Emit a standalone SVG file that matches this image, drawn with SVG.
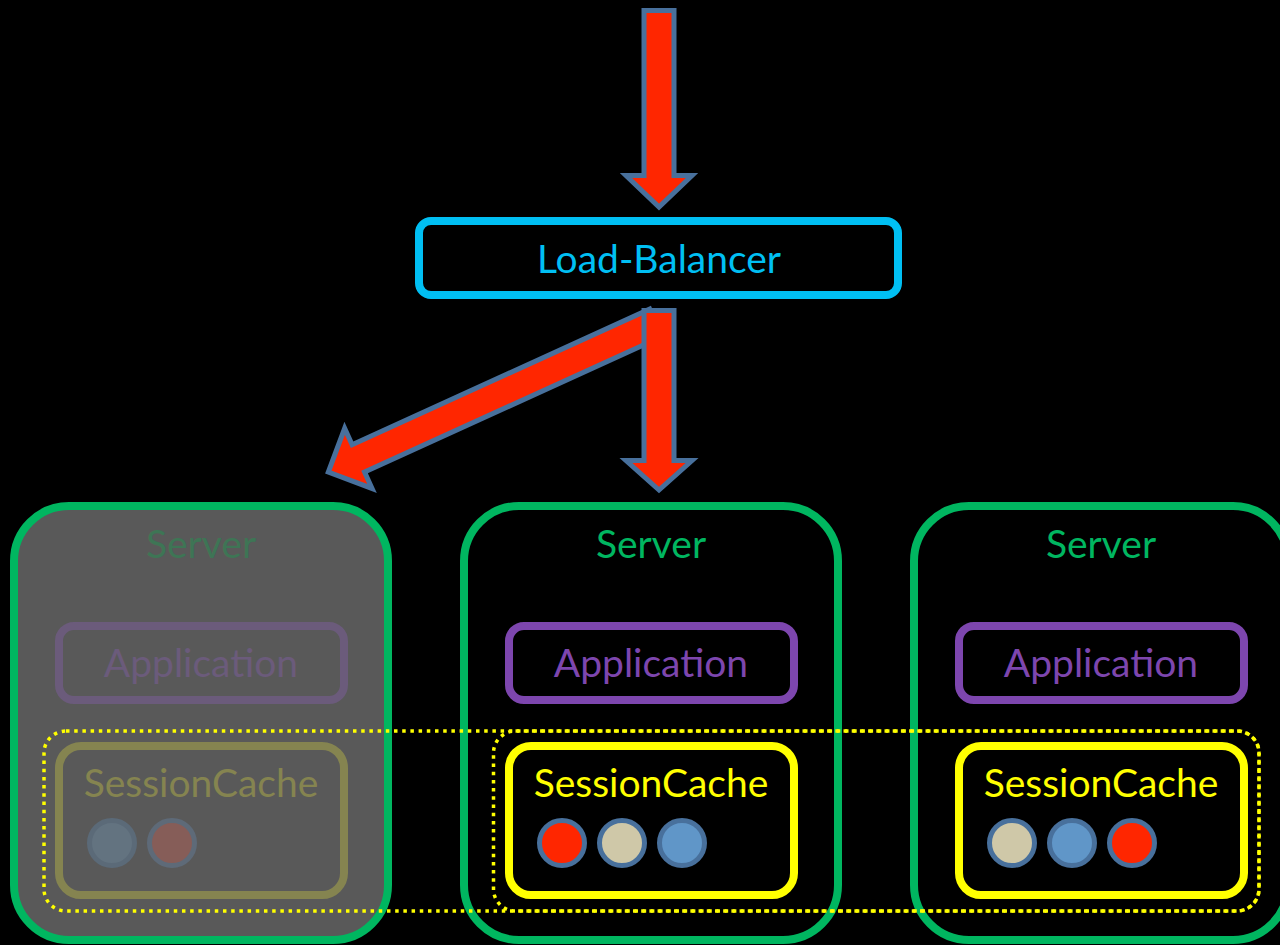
<svg xmlns="http://www.w3.org/2000/svg" width="1280" height="945" viewBox="0 0 1280 945">
  <style>
    .lbl { font-family: Lato, "Open Sans", "Liberation Sans", sans-serif; font-size: 39px; text-anchor: middle; }
    .srv { fill: none; stroke: #00B660; stroke-width: 8; }
    .app { fill: none; stroke: #7D46AE; stroke-width: 8; }
    .cache { fill: none; stroke: #FFFF00; stroke-width: 8; }
    .arrow { fill: #FF2600; stroke: #48709C; stroke-width: 5; stroke-linejoin: miter; }
    .dot { stroke: #48709C; stroke-width: 5; }
    .cluster { fill: none; stroke: #FFFF00; stroke-width: 3.5; stroke-dasharray: 3.5 4.7; }
  </style>
  <rect width="1280" height="945" fill="#000000"/>

  <!-- load balancer -->
  <g id="load-balancer">
    <rect x="419" y="221" width="479" height="74" rx="12" fill="none" stroke="#00BFF3" stroke-width="8"/>
    <text class="lbl" x="659" y="273" fill="#00BFF3">Load-Balancer</text>
  </g>

  <!-- server taken out of rotation (greyed) -->
  <g id="server-1">
    <rect x="14" y="506" width="374" height="434" rx="55" fill="#595959" stroke="#00B660" stroke-width="8"/>
    <text class="lbl" x="201" y="558" fill="#3E7555">Server</text>
    <g id="application-1">
      <rect x="59" y="626" width="285" height="74" rx="15" fill="none" stroke="#6B5B7B" stroke-width="8"/>
      <text class="lbl" x="201" y="677" fill="#6B5B7B">Application</text>
    </g>
    <g id="session-cache-1">
      <rect x="59" y="746" width="285" height="149" rx="22" fill="none" stroke="#858450" stroke-width="8"/>
      <text class="lbl" x="201" y="797" fill="#858450">SessionCache</text>
      <circle cx="112" cy="843" r="22.5" fill="#637380" stroke="#5B6A78" stroke-width="5"/>
      <circle cx="172" cy="843" r="22.5" fill="#865D58" stroke="#5E6A78" stroke-width="5"/>
    </g>
  </g>

  <g id="server-2">
    <rect class="srv" x="464" y="506" width="374" height="434" rx="55"/>
    <text class="lbl" x="651" y="558" fill="#00B660">Server</text>
    <g id="application-2">
      <rect class="app" x="509" y="626" width="285" height="74" rx="15"/>
      <text class="lbl" x="651" y="677" fill="#7D46AE">Application</text>
    </g>
    <g id="session-cache-2">
      <rect class="cache" x="509" y="746" width="285" height="149" rx="22"/>
      <text class="lbl" x="651" y="797" fill="#FFFF00">SessionCache</text>
      <circle class="dot" cx="562" cy="843" r="22.5" fill="#FF2600"/>
      <circle class="dot" cx="622" cy="843" r="22.5" fill="#CFC8A8"/>
      <circle class="dot" cx="682" cy="843" r="22.5" fill="#6096C8"/>
    </g>
  </g>

  <g id="server-3">
    <rect class="srv" x="914" y="506" width="374" height="434" rx="55"/>
    <text class="lbl" x="1101" y="558" fill="#00B660">Server</text>
    <g id="application-3">
      <rect class="app" x="959" y="626" width="285" height="74" rx="15"/>
      <text class="lbl" x="1101" y="677" fill="#7D46AE">Application</text>
    </g>
    <g id="session-cache-3">
      <rect class="cache" x="959" y="746" width="285" height="149" rx="22"/>
      <text class="lbl" x="1101" y="797" fill="#FFFF00">SessionCache</text>
      <circle class="dot" cx="1012" cy="843" r="22.5" fill="#CFC8A8"/>
      <circle class="dot" cx="1072" cy="843" r="22.5" fill="#6096C8"/>
      <circle class="dot" cx="1132" cy="843" r="22.5" fill="#FF2600"/>
    </g>
  </g>

  <!-- replicated session cache groupings -->
  <g id="cache-cluster">
    <rect class="cluster" x="44" y="731" width="1215" height="180" rx="22"/>
    <rect class="cluster" x="493.5" y="731" width="765.5" height="180" rx="22"/>
  </g>

  <!-- request flow -->
  <g id="connectors">
    <path class="arrow" transform="translate(655.9,322.8) rotate(155.5)" d="M0,-15 H327 V-33 L360,0 L327,33 V15 H0 Z"/>
    <path class="arrow" d="M644,310.5 H674 V460.5 H692 L659,490 L626,460.5 H644 Z"/>
    <path class="arrow" d="M644,10.5 H674 V175.5 H692 L659,207 L626,175.5 H644 Z"/>
  </g>
</svg>
